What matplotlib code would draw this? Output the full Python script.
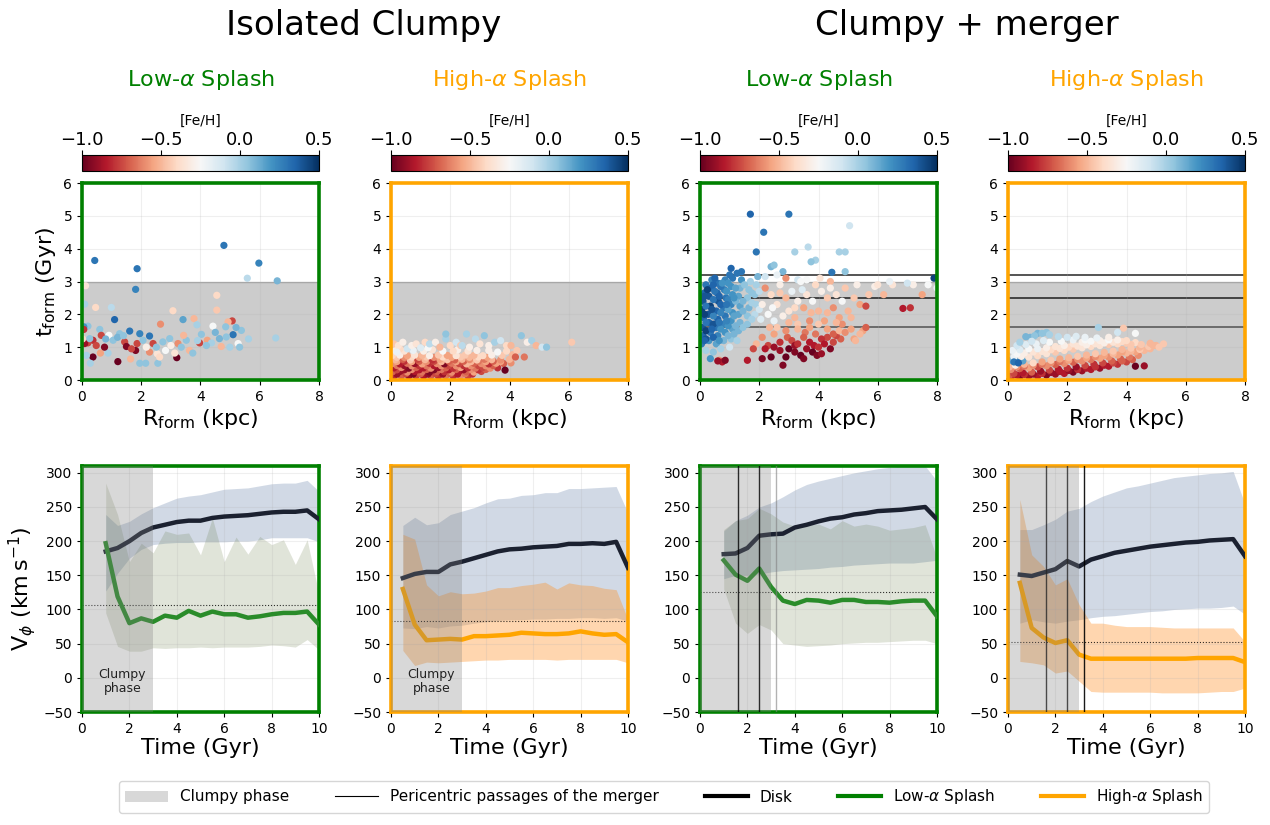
import numpy as np
import matplotlib
matplotlib.use('Agg')
import matplotlib.pyplot as plt
from matplotlib.colors import Normalize
from matplotlib.cm import ScalarMappable
from matplotlib.patches import Patch
from matplotlib.lines import Line2D

#----------------------------------------------------------------------------------#
# Data
#----------------------------------------------------------------------------------#
# scatter points (R_form [kpc], t_form [Gyr], [Fe/H])
pts_iso_low = [
    (0.43,3.64,0.3),(1.86,3.39,0.3),(1.81,2.76,0.25),(4.79,4.10,0.3),(5.97,3.56,0.25),(6.59,3.02,0.1),
    (5.58,3.10,-0.05),(6.54,1.28,0.0),(5.62,1.25,0.0),(0.12,2.87,-0.35),(0.09,2.31,0.0),(0.46,2.21,-0.4),
    (0.99,2.21,-0.05),(1.10,1.84,0.35),(3.07,2.11,-0.4),(3.41,1.84,0.15),(3.78,1.87,-0.5),(2.65,1.70,-0.6),
    (4.55,2.58,-0.4),(4.55,2.13,-0.45),(5.07,1.80,-0.75),(4.93,1.77,-0.5),(3.88,1.68,0.0),(4.42,1.64,-0.25),
    (4.85,1.62,0.05),(5.38,1.51,0.05),(5.10,1.38,0.3),(1.61,1.49,0.3),(1.95,1.41,0.25),(2.28,1.34,0.3),
    (1.27,1.41,0.05),(0.20,1.64,0.05),(0.06,1.62,0.2),(0.60,1.54,0.05),(0.91,1.36,-0.25),(0.65,1.36,-0.75),
    (0.06,1.54,-0.8),(0.37,1.21,-0.8),(0.20,1.13,-0.75),(0.09,1.11,-0.9),(0.37,0.70,-1.0),(0.15,0.75,0.0),
    (0.28,0.51,0.0),(0.62,0.82,-0.55),(0.88,0.82,0.0),(0.76,1.00,-0.95),(1.21,0.56,-1.0),(1.64,0.64,-0.5),
    (1.95,0.51,0.05),(2.15,0.51,0.05),(1.81,0.90,-0.95),(1.86,1.11,-0.75),(1.44,1.16,-0.75),(2.28,0.85,-0.6),
    (2.54,0.80,-0.35),(2.56,0.51,0.05),(2.62,0.70,-0.4),(2.82,0.90,-0.25),(3.20,0.68,-1.0),(3.13,0.82,-0.35),
    (3.52,1.21,0.05),(3.63,0.90,-0.5),(3.74,0.82,0.05),(3.43,1.36,-0.5),(3.97,1.13,-0.75),(4.03,1.39,0.05),
    (4.23,1.21,-0.55),(4.37,1.13,0.0),(4.70,1.02,-0.5),(4.99,1.00,0.0),(5.27,1.11,-0.25),(5.32,1.00,0.05),
    (4.64,1.26,0.1),(2.96,1.26,0.05),(2.73,1.16,0.05),(3.24,1.11,-0.6),(2.40,1.11,-0.75),(2.06,1.21,0.05),
    (1.05,1.21,0.05),(1.50,1.02,-0.95),(1.67,0.95,-0.75),(0.48,1.05,-0.75),(0.26,1.26,0.05),(2.17,1.00,-0.3),
    (2.51,1.00,0.05),(3.35,1.00,0.05),(4.20,1.05,0.05),(4.87,1.31,0.05),(1.20,1.30,0.1),(1.40,1.35,0.05),
    (0.80,1.25,0.1),(3.00,1.05,-0.3),(3.90,1.20,0.0),(4.50,1.45,0.1),(5.20,1.60,0.1),(0.02,1.25,-0.4),
]

pts_iso_high = [
    (0.1,0.12,-0.8),(0.35,0.12,-0.7),(0.6,0.12,-0.9),(0.85,0.13,-0.75),(1.1,0.12,-0.85),(1.35,0.13,-0.7),
    (1.6,0.12,-0.8),(1.85,0.13,-0.65),(2.1,0.12,-0.8),(2.35,0.13,-0.6),(2.6,0.12,-0.75),
    (0.2,0.18,-0.9),(0.5,0.19,-0.75),(0.75,0.18,-0.95),(1.0,0.19,-0.7),(1.25,0.18,-0.9),(1.5,0.19,-0.75),
    (1.75,0.18,-0.9),(2.0,0.19,-0.7),(2.25,0.18,-0.85),(2.5,0.19,-0.65),(2.75,0.18,-0.8),
    (0.05,0.25,-0.7),(0.3,0.26,-0.9),(0.55,0.24,-0.6),(0.8,0.26,-0.85),(1.05,0.25,-0.65),(1.3,0.24,-0.95),
    (1.55,0.26,-0.7),(1.8,0.25,-0.8),(2.05,0.24,-0.6),(2.3,0.26,-0.85),(2.55,0.25,-0.7),(2.8,0.24,-0.55),
    (3.05,0.26,-0.75),
    (0.2,0.31,-0.75),(0.45,0.31,-0.9),(0.7,0.32,-0.6),(0.95,0.31,-0.85),(1.2,0.32,-0.7),(1.45,0.31,-0.95),
    (1.7,0.32,-0.65),(1.95,0.31,-0.85),(2.2,0.32,-0.7),(2.45,0.31,-0.9),(2.7,0.32,-0.6),(2.95,0.31,-0.8),
    (3.2,0.32,-0.7),
    (0.1,0.37,-0.85),(0.35,0.38,-0.6),(0.6,0.36,-0.95),(0.85,0.38,-0.7),(1.1,0.37,-0.85),(1.35,0.36,-0.6),
    (1.6,0.38,-0.9),(1.85,0.37,-0.7),(2.1,0.36,-0.8),(2.35,0.38,-0.55),(2.6,0.37,-0.8),(2.85,0.36,-0.65),
    (3.1,0.38,-0.75),(3.35,0.36,-0.6),(3.6,0.37,-0.8),
    (0.2,0.44,-0.65),(0.45,0.44,-0.9),(0.7,0.43,-0.6),(0.95,0.44,-0.8),(1.2,0.43,-0.65),(1.45,0.44,-0.85),
    (1.7,0.43,-0.6),(1.95,0.44,-0.75),(2.2,0.43,-0.6),(2.45,0.44,-0.8),(2.7,0.43,-0.6),(2.95,0.44,-0.75),
    (3.2,0.43,-0.6),(3.45,0.44,-0.7),
    (0.05,0.5,-0.6),(0.3,0.49,-0.85),(0.55,0.51,-0.65),(0.8,0.5,-0.9),(1.05,0.49,-0.55),(1.3,0.51,-0.8),
    (1.55,0.5,-0.6),(1.8,0.49,-0.95),(2.05,0.51,-0.65),(2.3,0.5,-0.75),(2.55,0.49,-0.5),(2.8,0.51,-0.7),
    (3.05,0.5,-0.6),(3.3,0.49,-0.8),(3.55,0.51,-0.55),(3.8,0.5,-0.7),(4.05,0.52,-0.6),
    (0.2,0.56,-0.55),(0.45,0.57,-0.8),(0.7,0.56,-0.55),(0.95,0.57,-0.7),(1.2,0.56,-0.6),(1.45,0.57,-0.75),
    (1.7,0.56,-0.5),(1.95,0.57,-0.7),(2.2,0.56,-0.55),(2.45,0.57,-0.7),(2.7,0.56,-0.5),(2.95,0.57,-0.65),
    (3.2,0.56,-0.55),(3.45,0.57,-0.7),(3.7,0.56,-0.55),
    (0.15,0.62,-0.5),(0.4,0.63,-0.7),(0.65,0.61,-0.45),(0.9,0.63,-0.75),(1.15,0.62,-0.5),(1.4,0.61,-0.8),
    (1.65,0.63,-0.55),(1.9,0.62,-0.45),(2.15,0.61,-0.7),(2.4,0.63,-0.5),(2.65,0.62,-0.6),(2.9,0.61,-0.45),
    (3.15,0.63,-0.65),(3.4,0.62,-0.5),(3.7,0.61,-0.6),(4.0,0.63,-0.5),
    (0.2,0.69,-0.45),(0.45,0.69,-0.6),(0.7,0.7,-0.4),(0.95,0.69,-0.55),(1.2,0.7,-0.45),(1.45,0.69,-0.6),
    (1.75,0.7,-0.4),(2.05,0.69,-0.55),(2.35,0.7,-0.45),(2.65,0.69,-0.5),(2.95,0.7,-0.4),(3.25,0.69,-0.55),
    (0.05,0.75,-0.4),(0.3,0.76,-0.3),(0.55,0.74,-0.55),(0.8,0.76,-0.35),(1.05,0.75,-0.5),(1.3,0.74,-0.3),
    (1.6,0.76,-0.45),(1.9,0.75,-0.55),(2.2,0.74,-0.35),(2.5,0.76,-0.45),(2.8,0.75,-0.5),(3.1,0.74,-0.4),
    (3.4,0.76,-0.3),(3.75,0.75,-0.45),(4.1,0.77,-0.5),
    (0.15,0.9,-0.3),(0.45,0.88,-0.35),(0.75,0.9,-0.2),(1.1,0.88,-0.3),(1.4,0.92,-0.35),(1.75,0.88,-0.25),
    (2.25,0.92,-0.3),(2.6,0.88,-0.35),(3.3,0.9,-0.3),(3.9,0.88,-0.4),(0.3,0.95,-0.4),(1.25,0.98,-0.25),
    (0.1,1.1,-0.45),(0.25,1.05,-0.35),(0.4,1.15,-0.3),(0.55,0.95,-0.1),(0.7,1.05,-0.3),(0.85,1.1,-0.35),
    (1.0,0.98,-0.15),(1.15,1.15,-0.4),(1.3,1.1,-0.05),(1.5,1.15,-0.3),(1.65,1.0,-0.5),(1.85,1.25,0.0),
    (2.0,1.05,-0.4),(2.2,1.15,-0.1),(2.35,1.05,-0.45),(2.55,1.4,0.0),(2.65,1.0,-0.3),(2.85,1.25,-0.05),
    (3.0,1.1,-0.35),(3.15,1.35,0.05),(3.3,1.05,-0.3),(3.5,1.15,0.0),(3.7,1.2,-0.1),(3.9,1.05,-0.4),
    (4.05,1.05,-0.5),(4.25,0.9,-0.45),(4.4,1.35,0.05),(4.6,1.15,-0.3),(4.75,1.2,0.0),(4.9,1.05,-0.5),
    (5.1,1.0,-0.1),(5.25,1.0,0.05),(6.1,1.15,-0.45),(1.85,1.4,0.05),(0.2,0.85,-0.2),(2.4,1.05,-0.05),
    (3.6,0.85,-0.25),(4.5,0.7,-0.65),(4.2,0.7,-0.7),(3.85,0.3,-1.0),(2.1,0.88,-0.4),(2.9,0.9,-0.3),
]

pts_mer_low = [
    (0.05,1.1,0.3),(0.1,1.35,0.35),(0.08,1.6,0.4),(0.12,1.9,0.35),(0.06,2.15,0.45),(0.1,2.4,0.4),(0.15,2.65,0.35),(0.2,2.9,0.3),
    (0.3,1.2,0.2),(0.35,1.45,0.3),(0.3,1.75,0.35),(0.28,2.0,0.4),(0.35,2.25,0.45),(0.3,2.55,0.4),(0.38,2.8,0.35),(0.4,3.05,0.25),
    (0.55,1.1,0.15),(0.6,1.35,0.25),(0.55,1.6,0.3),(0.6,1.85,0.35),(0.55,2.1,0.35),(0.62,2.4,0.4),(0.58,2.65,0.35),(0.6,2.95,0.3),
    (0.8,1.2,0.1),(0.85,1.45,0.2),(0.8,1.7,0.25),(0.85,1.95,0.3),(0.8,2.2,0.3),(0.88,2.5,0.3),(0.82,2.75,0.25),(0.85,3.05,0.25),
    (1.05,1.25,0.05),(1.1,1.55,0.15),(1.05,1.8,0.2),(1.1,2.05,0.2),(1.05,2.3,0.25),(1.1,2.6,0.2),(1.05,2.85,0.2),(1.1,3.1,0.3),
    (1.3,1.5,0.1),(1.35,1.75,0.1),(1.3,2.0,0.15),(1.35,2.25,0.15),(1.3,2.55,0.15),(1.35,2.8,0.1),(1.4,3.05,0.2),
    (1.6,1.7,0.05),(1.6,1.95,0.05),(1.65,2.2,0.1),(1.6,2.5,0.05),(1.65,2.75,0.05),(1.7,3.0,0.0),
    (1.85,2.0,-0.05),(1.9,2.3,0.0),(1.85,2.6,0.05),(1.9,2.9,0.0),(1.95,3.15,0.1),
    (0.2,0.9,0.0),(0.45,0.85,0.05),(0.7,0.95,0.0),(1.0,1.0,-0.1),(1.25,1.2,0.0),(0.35,0.65,0.2),
    (0.65,0.6,-0.6),(0.75,0.55,-0.85),(0.85,0.6,-0.95),(0.6,0.58,-0.9),
    (0.2,1.25,0.4),(0.45,1.3,0.35),(0.2,1.5,0.45),(0.45,1.7,0.4),(0.2,1.75,0.3),(0.45,1.95,0.25),(0.2,2.25,0.3),
    (0.45,2.45,0.3),(0.25,2.75,0.45),(0.5,2.7,0.3),(0.7,1.55,0.2),(0.7,2.05,0.25),(0.7,2.3,0.35),(0.7,2.85,0.3),
    (0.95,1.35,0.1),(0.95,1.65,0.2),(0.95,2.15,0.15),(0.95,2.45,0.25),(0.95,2.95,0.2),(1.2,1.65,0.1),(1.2,2.4,0.1),
    (0.15,1.2,0.35),(0.4,1.55,0.35),(0.15,2.0,0.45),(0.4,2.15,0.4),(0.15,2.55,0.4),(0.45,2.9,0.35),(0.65,1.2,0.2),
    (0.65,1.75,0.3),(0.65,2.55,0.35),(0.75,2.95,0.2),(0.9,1.8,0.25),(0.9,2.3,0.3),(0.9,2.7,0.2),(1.15,1.4,0.1),
    (1.15,1.95,0.15),(1.15,2.5,0.2),(1.2,2.8,0.15),(1.45,1.6,0.05),(1.45,2.1,0.1),(1.45,2.4,0.1),(1.5,2.9,0.05),
    (1.75,1.85,0.0),(1.75,2.35,0.0),(1.75,2.65,0.05),(2.0,2.15,-0.1),(2.0,2.7,-0.05),(2.05,1.85,-0.15),(1.0,3.2,0.3),
    (0.5,3.1,0.35),(1.25,3.25,0.3),(2.2,3.15,-0.1),
    (1.7,5.05,0.35),(3.0,5.05,0.3),(2.15,4.5,0.3),(1.9,3.9,0.3),(1.05,3.4,0.35),(1.4,3.3,0.3),(2.4,3.45,0.1),
    (2.5,3.5,0.05),(3.2,3.9,0.0),(3.65,4.05,-0.05),(3.9,3.65,0.0),(3.75,3.6,0.05),(4.7,3.9,0.0),(4.9,3.9,0.0),
    (5.05,4.7,-0.1),(4.45,3.28,0.3),(4.9,3.3,0.05),(7.9,3.1,0.45),(2.8,3.3,0.1),(2.6,3.2,-0.2),(3.3,3.05,-0.1),
    (2.2,2.8,-0.6),(2.4,2.6,-0.4),(2.1,2.3,-0.3),(2.3,2.0,-0.25),(2.5,1.8,-0.2),(2.6,2.3,-0.35),(2.7,2.9,-0.3),
    (2.9,2.5,-0.5),(3.0,2.1,-0.35),(3.1,2.7,-0.2),(3.2,1.9,-0.5),(3.3,2.4,-0.3),(3.4,3.0,-0.25),(3.5,2.2,-0.55),
    (3.6,2.6,-0.35),(3.7,1.8,-0.6),(3.8,2.4,-0.25),(3.9,2.9,-0.4),(4.0,2.1,-0.5),(4.1,2.7,-0.3),(4.2,1.8,-0.55),
    (4.3,2.5,-0.45),(4.4,3.0,-0.5),(4.5,2.2,-0.6),(4.6,2.6,-0.35),(4.7,1.9,-0.55),(4.8,2.4,-0.25),(4.9,2.8,-0.45),
    (5.0,2.1,-0.5),(5.2,2.5,-0.45),(5.4,2.3,-0.55),(5.6,2.25,-0.75),(5.7,2.6,-0.45),(5.9,2.85,-0.3),(6.2,2.6,-0.5),
    (6.5,2.9,-0.35),(6.85,2.18,-0.85),(7.1,2.2,-0.8),(7.2,2.9,-0.3),(7.5,2.6,-0.55),(7.7,2.9,-0.25),(8.0,2.8,-0.2),
    (6.0,2.9,-0.35),(6.4,3.0,-0.2),(7.0,2.95,-0.1),(5.3,2.9,-0.3),(2.9,3.1,-0.6),(3.6,3.05,-0.25),(4.05,3.1,-0.35),
    (2.7,2.65,-0.45),(3.2,2.2,-0.4),(3.75,2.05,-0.5),(4.3,2.05,-0.5),(4.4,2.8,-0.3),(3.45,2.75,-0.15),(2.45,2.2,-0.25),
    (2.8,1.95,-0.3),(3.3,1.7,-0.45),(4.8,1.7,-0.6),(5.1,1.9,-0.5),(3.55,1.45,-0.65),(4.3,1.3,-0.75),(2.95,1.3,-0.7),
    (2.35,1.6,-0.5),(5.5,1.5,-0.55),(4.75,1.25,-0.7),(3.85,1.05,-0.85),(2.9,0.7,-1.0),(3.2,0.85,-0.95),(4.6,1.35,-0.75),
    (1.9,1.1,-0.5),(2.1,1.3,-0.6),(2.3,1.05,-0.75),(2.5,1.4,-0.55),(2.7,1.15,-0.8),(2.9,1.5,-0.6),(3.1,1.2,-0.75),
    (3.3,1.55,-0.5),(3.5,1.3,-0.7),(3.7,1.6,-0.55),(3.9,1.4,-0.65),(4.1,1.25,-0.8),(4.3,1.55,-0.55),(4.5,1.4,-0.7),
    (4.7,1.5,-0.5),(4.9,1.45,-0.6),(5.1,1.55,-0.55),(5.2,1.25,-0.55),(5.4,1.4,-0.5),(5.6,1.6,-0.7),(5.25,1.2,-0.5),
    (2.6,1.6,-0.45),(3.0,1.75,-0.5),(4.0,1.7,-0.45),(4.6,1.75,-0.5),
    (1.6,0.6,-0.85),(2.1,0.65,-0.95),(2.4,0.7,-1.0),(2.8,0.45,-0.95),(2.7,0.9,-0.9),(3.0,0.95,-1.0),(3.2,1.05,-0.9),
    (3.4,0.75,-1.0),(3.5,0.65,-0.95),(3.6,0.95,-0.9),(3.8,0.85,-1.0),(3.95,0.75,-0.95),(4.1,0.8,-0.9),(4.2,1.1,-0.85),
    (4.4,0.95,-0.95),(3.3,1.1,-0.8),(2.2,0.95,-0.85),(2.5,1.0,-0.9),(1.8,0.95,-0.75),(3.7,1.15,-0.85),(4.0,1.0,-0.8),
    (4.5,1.15,-0.75),
]

pts_mer_high = [
    (0.1,0.08,-0.8),(0.4,0.1,-0.95),(0.7,0.12,-0.9),(1.0,0.12,-0.85),(1.3,0.15,-0.95),(1.6,0.18,-0.9),(1.9,0.2,-0.85),
    (2.2,0.24,-0.95),(2.5,0.28,-0.9),(2.8,0.32,-0.85),(3.1,0.36,-0.9),(3.4,0.42,-0.85),(3.7,0.48,-0.8),(4.0,0.55,-0.75),
    (0.05,0.15,-0.7),(0.3,0.15,-0.85),(0.55,0.17,-0.8),(0.85,0.18,-0.9),(1.15,0.2,-0.8),(1.45,0.23,-0.9),(1.75,0.26,-0.85),
    (2.05,0.29,-0.9),(2.35,0.32,-0.8),(2.65,0.36,-0.85),(2.95,0.4,-0.8),(3.25,0.45,-0.85),(3.55,0.52,-0.75),(3.85,0.58,-0.7),
    (4.2,0.62,-0.7),
    (0.2,0.2,-0.75),(0.5,0.22,-0.85),(0.8,0.24,-0.7),(1.1,0.27,-0.9),(1.4,0.3,-0.75),(1.7,0.33,-0.85),(2.0,0.36,-0.8),
    (2.3,0.4,-0.9),(2.6,0.44,-0.75),(2.9,0.48,-0.8),(3.2,0.52,-0.75),(3.5,0.58,-0.7),(3.8,0.64,-0.7),(4.1,0.7,-0.65),
    (4.4,0.75,-0.6),
    (0.1,0.32,-0.6),(0.4,0.35,-0.7),(0.7,0.37,-0.55),(1.0,0.4,-0.75),(1.3,0.43,-0.6),(1.6,0.47,-0.7),(1.9,0.5,-0.6),
    (2.2,0.54,-0.7),(2.5,0.58,-0.6),(2.8,0.62,-0.65),(3.1,0.66,-0.55),(3.4,0.7,-0.6),(3.7,0.76,-0.55),(4.0,0.82,-0.5),
    (4.3,0.86,-0.55),(4.6,0.9,-0.5),
    (0.05,0.4,-0.5),(0.3,0.4,-0.6),(0.55,0.42,-0.65),(0.85,0.45,-0.6),(1.15,0.48,-0.65),(1.45,0.52,-0.6),(1.75,0.56,-0.65),
    (2.05,0.6,-0.55),(2.35,0.63,-0.6),(2.65,0.67,-0.55),(2.95,0.71,-0.6),(3.25,0.75,-0.55),(3.55,0.8,-0.5),(3.85,0.85,-0.55),
    (4.15,0.88,-0.5),(4.45,0.93,-0.45),(4.8,0.95,-0.5),
    (0.25,0.45,-0.3),(0.55,0.48,-0.5),(0.85,0.52,-0.4),(1.15,0.55,-0.55),(1.45,0.6,-0.45),(1.75,0.64,-0.55),
    (2.05,0.68,-0.5),(2.35,0.72,-0.45),(2.65,0.76,-0.5),(2.95,0.8,-0.45),(3.25,0.84,-0.5),(3.55,0.88,-0.45),
    (3.85,0.93,-0.5),(4.15,0.97,-0.45),(4.45,1.0,-0.5),(4.75,1.02,-0.45),(5.0,1.05,-0.5),(5.25,1.1,-0.45),
    (0.1,0.6,0.1),(0.3,0.55,0.2),(0.5,0.58,0.15),(0.2,0.7,-0.2),(0.45,0.72,-0.3),(0.7,0.7,-0.35),(1.0,0.74,-0.4),
    (1.3,0.8,-0.35),(1.6,0.85,-0.45),(1.9,0.9,-0.4),(2.2,0.94,-0.45),(2.5,0.98,-0.35),(2.8,1.02,-0.4),(3.1,1.05,-0.35),
    (3.4,1.08,-0.45),(3.7,1.1,-0.4),(4.0,1.12,-0.45),(4.3,1.14,-0.4),
    (0.3,0.8,-0.25),(0.55,0.82,-0.3),(0.85,0.85,-0.35),(1.15,0.87,-0.35),(1.45,0.92,-0.4),(1.75,0.96,-0.35),
    (2.05,1.0,-0.4),(2.35,1.03,-0.35),(2.65,1.07,-0.3),(2.95,1.1,-0.35),(3.25,1.13,-0.3),(3.55,1.15,-0.35),
    (3.85,1.17,-0.4),(4.15,1.08,-0.45),(4.5,1.08,-0.45),(4.9,1.05,-0.5),
    (0.15,0.9,-0.2),(0.4,0.92,-0.15),(0.7,0.95,-0.25),(1.0,0.95,-0.2),(1.3,0.98,-0.3),(1.6,1.02,-0.35),(1.9,1.05,-0.3),
    (2.2,1.1,-0.35),(2.5,1.15,-0.3),(2.8,1.18,-0.25),(3.1,1.2,-0.3),(3.4,1.22,-0.25),(3.7,1.22,-0.3),(4.0,1.2,-0.4),
    (0.3,1.05,-0.1),(0.6,1.08,-0.15),(0.95,1.1,-0.2),(1.4,1.15,-0.25),(1.8,1.18,-0.25),(2.2,1.22,-0.2),(2.6,1.22,-0.25),
    (3.0,1.28,-0.2),(3.4,1.3,-0.3),(0.75,1.3,0.1),(1.0,1.42,0.1),(1.3,1.45,0.05),
    (0.6,1.32,0.1),(0.9,1.35,0.05),(1.15,1.42,0.05),(1.4,1.38,0.0),(1.7,1.32,-0.05),(2.0,1.3,-0.1),(2.3,1.33,-0.15),
    (2.6,1.3,-0.2),(0.4,1.15,0.0),(0.8,1.18,-0.1),(1.2,1.2,-0.15),(3.05,1.6,0.0),(3.9,1.58,-0.45),(3.7,1.45,-0.1),
    (4.3,1.42,-0.25),(4.3,0.42,-1.0),(4.6,0.43,-0.9),(4.8,1.12,-0.5),(5.1,1.0,-0.45),(0.2,0.55,0.3),(0.35,0.52,0.35),
]

# time grids (Gyr)
time_1 = [1.0,1.5,2.0,2.5,3.0,3.5,4.0,4.5,5.0,5.5,6.0,6.5,7.0,7.5,8.0,8.5,9.0,9.5,10.0]
time_05 = [0.5,1.0,1.5,2.0,2.5,3.0,3.5,4.0,4.5,5.0,5.5,6.0,6.5,7.0,7.5,8.0,8.5,9.0,9.5,10.0]

# isolated, low-alpha
disk_iso_low = [185,190,200,212,220,224,228,230,230,234,236,237,238,240,242,243,243,245,232]
disk_iso_low_hi = [239,223,229,240,249,256,263,266,268,272,276,277,278,281,284,285,285,289,273]
disk_iso_low_lo = [127,153,175,188,195,197,198,198,199,199,199,200,200,202,205,205,205,205,199]
spl_iso_low = [197,119,80,87,82,91,88,98,91,97,93,93,88,90,93,95,95,97,78]
spl_iso_low_hi = [285,239,170,197,183,215,210,212,180,234,170,206,181,207,195,202,166,202,122]
spl_iso_low_lo = [95,46,39,39,44,43,44,44,45,44,45,45,45,46,48,47,45,56,41]

# isolated, high-alpha
disk_iso_high = [146,152,155,155,166,170,175,180,185,188,189,191,192,193,196,196,197,196,199,161]
disk_iso_high_hi = [223,235,224,227,239,244,249,256,262,263,267,268,271,271,277,277,278,279,280,241]
disk_iso_high_lo = [73,72,75,73,76,77,80,82,84,85,85,86,86,87,87,88,88,87,88,83]
spl_iso_high = [130,78,55,56,57,56,61,61,62,63,66,65,64,64,65,68,65,63,64,52]
spl_iso_high_hi = [210,203,136,120,126,123,124,127,132,132,135,137,140,130,139,136,135,131,129,85]
spl_iso_high_lo = [40,18,23,22,23,24,25,26,26,27,27,27,27,26,27,27,27,27,27,22]

# merger, low-alpha
disk_mer_low = [181,182,190,208,210,211,220,224,229,233,235,239,241,244,245,246,248,250,232]
disk_mer_low_hi = [215,230,238,250,256,265,275,283,288,292,296,300,303,306,308,310,312,310,288]
disk_mer_low_lo = [145,150,150,152,155,157,158,159,160,162,163,165,166,167,168,168,168,170,172]
spl_mer_low = [172,151,142,160,133,113,108,114,113,110,114,114,111,111,110,112,113,113,90]
spl_mer_low_hi = [217,230,233,248,240,228,222,225,225,218,230,222,225,222,216,218,220,224,175]
spl_mer_low_lo = [130,80,65,78,70,50,48,46,47,48,50,51,52,52,53,54,55,55,50]

# merger, high-alpha
disk_mer_high = [151,149,154,159,171,163,173,178,183,186,189,192,194,196,198,199,201,202,203,178]
disk_mer_high_hi = [217,217,224,232,244,248,258,266,272,278,281,285,289,293,295,297,299,300,302,254]
disk_mer_high_lo = [80,85,82,80,83,85,88,90,91,93,95,97,98,100,101,102,102,103,105,93]
spl_mer_high = [139,73,59,51,55,34,28,28,28,28,28,28,28,28,28,29,29,29,29,23]
spl_mer_high_hi = [261,180,163,136,145,107,80,80,77,75,75,75,74,73,73,73,73,73,73,53]
spl_mer_high_lo = [24,22,19,7,10,-5,-20,-21,-21,-21,-21,-21,-22,-22,-22,-22,-21,-20,-20,-15]

mean_vphi = [106, 83, 125, 52]
pericentres = [1.6, 2.5, 3.2]

#----------------------------------------------------------------------------------#
# Plotting
#----------------------------------------------------------------------------------#
GREEN = '#008000'
ORANGE = '#ffa500'
LINE_GREEN = '#2a8c2a'
DISK = '#1b2130'

W, H = 1270, 825
def px(l, t, w, h):
    return [l/W, 1-(t+h)/H, w/W, h/H]

fig = plt.figure(figsize=(12.7, 8.25), dpi=100)
norm = Normalize(vmin=-1.0, vmax=0.5)
cmap = plt.get_cmap('RdBu')

lefts = [82, 391, 700, 1008]
panels = [
    dict(pts=pts_iso_low, col=GREEN, lc=LINE_GREEN, title=r'Low-$\alpha$ Splash', merger=False, t=time_1,
         disk=(disk_iso_low, disk_iso_low_lo, disk_iso_low_hi),
         spl=(spl_iso_low, spl_iso_low_lo, spl_iso_low_hi), band='#556b2f', balpha=0.18),
    dict(pts=pts_iso_high, col=ORANGE, lc=ORANGE, title=r'High-$\alpha$ Splash', merger=False, t=time_05,
         disk=(disk_iso_high, disk_iso_high_lo, disk_iso_high_hi),
         spl=(spl_iso_high, spl_iso_high_lo, spl_iso_high_hi), band='#ff8c1a', balpha=0.35),
    dict(pts=pts_mer_low, col=GREEN, lc=LINE_GREEN, title=r'Low-$\alpha$ Splash', merger=True, t=time_1,
         disk=(disk_mer_low, disk_mer_low_lo, disk_mer_low_hi),
         spl=(spl_mer_low, spl_mer_low_lo, spl_mer_low_hi), band='#556b2f', balpha=0.18),
    dict(pts=pts_mer_high, col=ORANGE, lc=ORANGE, title=r'High-$\alpha$ Splash', merger=True, t=time_05,
         disk=(disk_mer_high, disk_mer_high_lo, disk_mer_high_hi),
         spl=(spl_mer_high, spl_mer_high_lo, spl_mer_high_hi), band='#ff8c1a', balpha=0.35),
]

for i, (l, p) in enumerate(zip(lefts, panels)):
    # --- top: formation radius vs formation time
    ax = fig.add_axes(px(l, 183, 237, 197))
    r, tf, feh = np.array(p['pts']).T
    ax.axhspan(0, 3, color='gray', alpha=0.4, lw=0, zorder=0)
    ax.axhline(3, color='gray', lw=1, alpha=0.5, zorder=0)
    if p['merger']:
        for tp in pericentres:
            ax.axhline(tp, color='k', lw=1.1, alpha=0.85 if tp != 1.6 else 0.6, zorder=1)
    ax.scatter(r, tf, c=feh, cmap=cmap, norm=norm, s=27, lw=0, zorder=2)
    ax.set_xlim(0, 8)
    ax.set_ylim(0, 6)
    ax.set_xticks([0, 2, 4, 6, 8])
    ax.grid(alpha=0.2)
    ax.tick_params(labelsize=10)
    ax.set_xlabel(r'R$_{\rm form}$ (kpc)', fontsize=16, labelpad=2)
    if i == 0:
        ax.set_ylabel(r't$_{\rm form}$ (Gyr)', fontsize=16)
    for s in ax.spines.values():
        s.set_color(p['col'])
        s.set_linewidth(2.6)

    # colorbar above
    cax = fig.add_axes(px(l, 155, 237, 16))
    cb = fig.colorbar(ScalarMappable(norm=norm, cmap=cmap), cax=cax, orientation='horizontal')
    cb.set_ticks([-1.0, -0.5, 0.0, 0.5])
    cax.xaxis.set_ticks_position('top')
    cax.xaxis.set_label_position('top')
    cax.tick_params(labelsize=13, pad=1)
    cb.set_label('[Fe/H]', fontsize=10, labelpad=4)

    fig.text((l+118.5)/W, 1-80/H, p['title'], color=p['col'], fontsize=16,
             ha='center', va='center')

    # --- bottom: V_phi vs time
    bx = fig.add_axes(px(l, 466, 237, 246))
    tt = p['t']
    d, dlo, dhi = p['disk']
    sp, slo, shi = p['spl']
    bx.fill_between(tt, dlo, dhi, color='#4a6a99', alpha=0.25, lw=0, zorder=1)
    bx.fill_between(tt, slo, shi, color=p['band'], alpha=p['balpha'], lw=0, zorder=1)
    bx.plot(tt, d, color=DISK, lw=3.2, zorder=3)
    bx.plot(tt, sp, color=p['lc'], lw=3.2, zorder=3)
    bx.axhline(mean_vphi[i], color='k', lw=0.8, ls=':', alpha=0.8, zorder=2)
    bx.axvspan(0, 3, color='gray', alpha=0.3, lw=0, zorder=4)
    if p['merger']:
        if i == 2:
            bx.axvline(1.6, color='k', lw=1, alpha=0.8, zorder=5)
            bx.axvline(2.5, color='k', lw=1, alpha=0.8, zorder=5)
            bx.axvline(3.2, color='gray', lw=1, alpha=0.6, zorder=5)
        else:
            bx.axvline(1.6, color='k', lw=1, alpha=0.8, zorder=3)
            bx.axvline(2.5, color='k', lw=1, alpha=0.8, zorder=3)
            bx.axvline(3.2, color='k', lw=1, alpha=0.9, zorder=5)
    else:
        bx.text(1.7, -5, 'Clumpy\nphase', ha='center', va='center', fontsize=9,
                color='#222222', zorder=6, linespacing=1.1)
    bx.set_xlim(0, 10)
    bx.set_ylim(-50, 310)
    bx.set_xticks([0, 2, 4, 6, 8, 10])
    bx.set_yticks([-50, 0, 50, 100, 150, 200, 250, 300])
    bx.grid(alpha=0.2)
    bx.tick_params(labelsize=10)
    bx.set_xlabel('Time (Gyr)', fontsize=16, labelpad=2)
    if i == 0:
        bx.set_ylabel(r'V$_\phi$ (km$\,$s$^{-1}$)', fontsize=16)
    for s in bx.spines.values():
        s.set_color(p['col'])
        s.set_linewidth(2.6)

fig.text(364/W, 1-25/H, 'Isolated Clumpy', fontsize=24.5, ha='center', va='center')
fig.text(967/W, 1-25/H, 'Clumpy + merger', fontsize=24.5, ha='center', va='center')

handles = [
    Patch(facecolor='gray', alpha=0.3, label='Clumpy phase'),
    Line2D([], [], color='k', lw=0.8, label='Pericentric passages of the merger'),
    Line2D([], [], color='k', lw=3, label='Disk'),
    Line2D([], [], color=GREEN, lw=3, label=r'Low-$\alpha$ Splash'),
    Line2D([], [], color=ORANGE, lw=3, label=r'High-$\alpha$ Splash'),
]
fig.legend(handles=handles, loc='center', bbox_to_anchor=(664/W, 1-797/H), ncol=5,
           fontsize=11, columnspacing=3.0, handlelength=2.8)

fig.savefig('out.png', dpi=100)
